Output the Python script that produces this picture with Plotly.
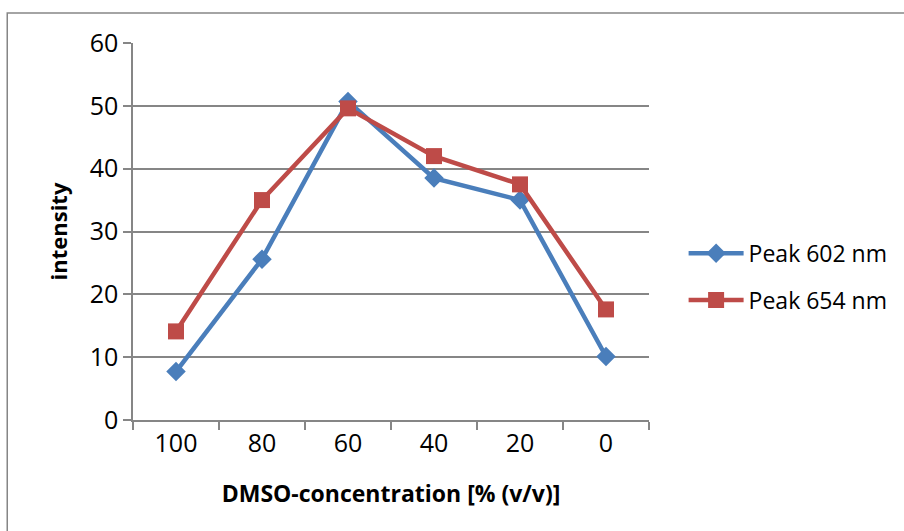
import plotly.graph_objects as go

categories = ["100", "80", "60", "40", "20", "0"]
peak_602 = [7.7, 25.6, 50.7, 38.5, 35.0, 10.1]
peak_654 = [14.1, 35.0, 49.6, 42.0, 37.5, 17.6]
y_ticks = [0, 10, 20, 30, 40, 50, 60]

FONT = "Open Sans"

fig = go.Figure()
fig.add_trace(go.Scatter(
    x=categories, y=peak_602, name="Peak 602 nm", mode="lines+markers",
    legendgroup="a",
    line=dict(color="#4A7EBB", width=4.5),
    marker=dict(symbol="diamond", size=15, color="#4A7EBB"),
))
fig.add_trace(go.Scatter(
    x=categories, y=peak_654, name="Peak 654 nm", mode="lines+markers",
    legendgroup="b",
    line=dict(color="#BE4B48", width=4.5),
    marker=dict(symbol="square", size=16, color="#BE4B48"),
))

fig.update_layout(
    width=904, height=531,
    margin=dict(l=133, r=254, t=43, b=111),
    paper_bgcolor="white", plot_bgcolor="white",
    font=dict(family=FONT, size=23, color="black"),
    showlegend=True,
    legend=dict(x=1.065, y=0.38, xanchor="left", yanchor="middle",
                font=dict(size=23), itemwidth=55, tracegroupgap=14),
    xaxis=dict(
        type="category", range=[-0.5, 5.5], tickson="boundaries",
        ticks="outside", ticklen=8, tickcolor="#868686", tickwidth=1.5,
        showline=True, linecolor="#868686", linewidth=1.5,
        showgrid=False, zeroline=False,
        tickfont=dict(size=25),
        title=dict(text="<b>DMSO-concentration [% (v/v)]</b>", font=dict(size=23), standoff=28),
    ),
    yaxis=dict(
        range=[0, 60], tickvals=y_ticks,
        ticks="outside", ticklen=8, tickcolor="#868686", tickwidth=1.5,
        showline=True, linecolor="#868686", linewidth=1.5,
        showgrid=True, gridcolor="#868686", gridwidth=1.5,
        zeroline=False, tickfont=dict(size=25),
        title=dict(text="<b>intensity</b>", font=dict(size=22), standoff=16),
    ),
    shapes=[dict(type="rect", xref="paper", yref="paper",
                 x0=(7 - 133) / 517, x1=2, y0=-1, y1=(420 - 13) / 377,
                 line=dict(color="#868686", width=1.5), layer="below")],
)

fig.write_html("out.html")
